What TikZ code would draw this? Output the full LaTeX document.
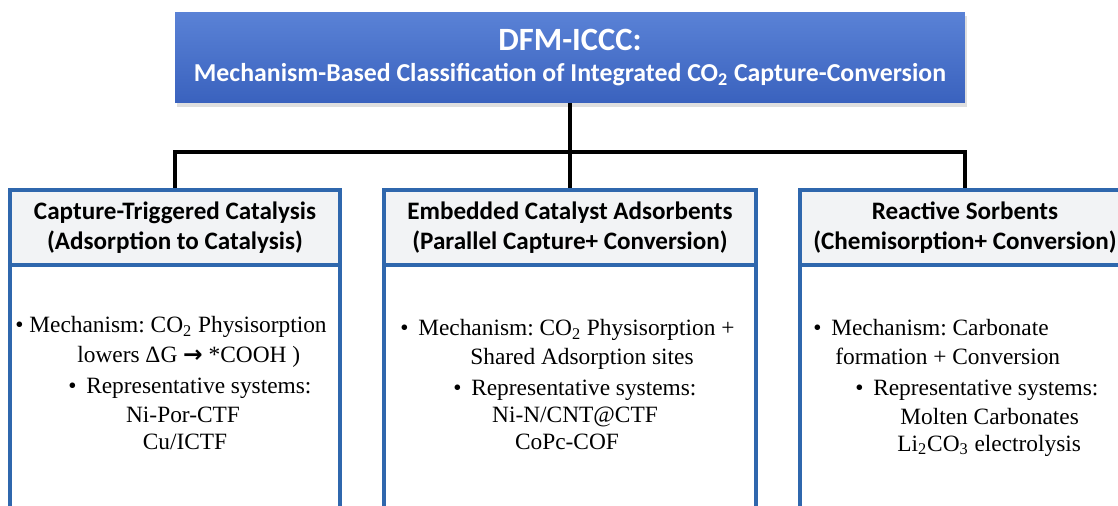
\documentclass[tikz,border=0pt]{standalone}
\usepackage{fontspec}
\setmainfont{Liberation Serif}
\newfontfamily\headfont{Carlito}
\newfontfamily\arrowfont{DejaVu Sans}
\usetikzlibrary{shadows}
\definecolor{titletop}{HTML}{5A82D6}
\definecolor{titlebot}{HTML}{3A62BE}
\definecolor{frameblue}{HTML}{2F67AD}
\definecolor{headgray}{HTML}{F2F3F5}
\frenchspacing

\begin{document}
\begin{tikzpicture}[x=0.02cm, y=-0.02cm,
  link/.style={line width=2.4pt, black},
  headbox/.style={draw=frameblue, line width=2pt, fill=headgray,
    minimum height=1.5cm, align=center, inner sep=0pt,
    font=\headfont\bfseries\fontsize{14.3}{17}\selectfont},
  bodybox/.style={draw=frameblue, line width=2pt, fill=white,
    minimum height=5.1cm, inner sep=0pt},
  txt/.style={anchor=base west, inner sep=0pt,
    font=\fontsize{13.3}{16}\selectfont}]
  \useasboundingbox (0,0) rectangle (1118,506);
  % titel
  \node[top color=titletop, bottom color=titlebot, minimum width=15.8cm,
    minimum height=1.82cm, align=center, text=white, inner sep=0pt,
    drop shadow={opacity=0.25, shadow xshift=1pt, shadow yshift=-2pt},
    font=\headfont\bfseries] (title) at (570,57.5)
    {{\fontsize{18.5}{22}\selectfont DFM-ICCC:}\\[6pt]
     {\fontsize{14.7}{17}\selectfont Mechanism-Based Classification of
      Integrated CO\textsubscript{2} Capture-Conversion}};
  % drie kolommen: kop en inhoud
  \node[bodybox, minimum width=6.6cm] (bodyA) at (175,392.5) {};
  \node[bodybox, minimum width=7.44cm] (bodyB) at (570,392.5) {};
  \node[bodybox, minimum width=6.6cm] (bodyC) at (965,392.5) {};
  \node[headbox, minimum width=6.6cm] (headA) at (175,227.5)
    {Capture-Triggered Catalysis\\(Adsorption to Catalysis)};
  \node[headbox, minimum width=7.44cm] (headB) at (570,227.5)
    {Embedded Catalyst Adsorbents\\(Parallel Capture+ Conversion)};
  \node[headbox, minimum width=6.6cm] (headC) at (965,227.5)
    {Reactive Sorbents\\(Chemisorption+ Conversion)};
  % verbindingen
  \coordinate (bus) at (570,152);
  \draw[link] (title.south) -- (bus);
  \draw[link] (headA.north) |- (bus) -| (headC.north);
  \draw[link] (bus) -- (headB.north);
  % kolom A
  \node[txt] (mechA1) at (15,333) {• Mechanism: CO\textsubscript{2} Physisorption};
  \node[txt] (mechA2) at (77,362) {lowers ΔG {\arrowfont\bfseries →} *COOH )};
  \node[txt] (repA) at (68,393) {•\, Representative systems:};
  \node[txt, anchor=base] (sysA1) at (183,422) {Ni-Por-CTF};
  \node[txt, anchor=base] (sysA2) at (185,449) {Cu/ICTF};
  % kolom B
  \node[txt] (mechB1) at (400,336) {•\, Mechanism: CO\textsubscript{2} Physisorption +};
  \node[txt] (mechB2) at (470,364) {Shared Adsorption sites};
  \node[txt] (repB) at (453,395) {•\, Representative systems:};
  \node[txt, anchor=base] (sysB1) at (575,422) {Ni-N/CNT@CTF};
  \node[txt, anchor=base] (sysB2) at (567,449) {CoPc-COF};
  % kolom C
  \node[txt] (mechC1) at (813,336) {•\, Mechanism: Carbonate};
  \node[txt] (mechC2) at (835,364) {formation + Conversion};
  \node[txt] (repC) at (855,395) {•\, Representative systems:};
  \node[txt] (sysC1) at (900,424) {Molten Carbonates};
  \node[txt] (sysC2) at (897,451) {Li\textsubscript{2}CO\textsubscript{3} electrolysis};
\end{tikzpicture}
\end{document}
